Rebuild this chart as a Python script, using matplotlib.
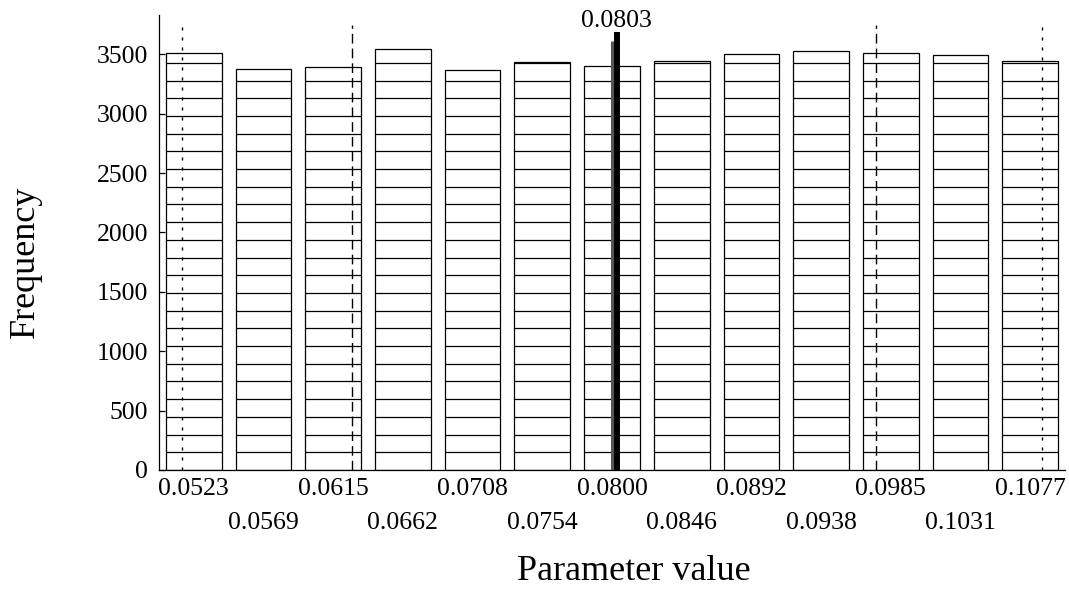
import numpy as np
import matplotlib
matplotlib.use("Agg")
import matplotlib.pyplot as plt

plt.rcParams['font.family'] = ['Liberation Serif', 'DejaVu Serif']

# bin centres (13 bins between 0.05 and 0.11) and frequencies
bin_lo, bin_hi = 0.05, 0.11
tick_labels = ['0.0523', '0.0569', '0.0615', '0.0662', '0.0708', '0.0754', '0.0800',
               '0.0846', '0.0892', '0.0938', '0.0985', '0.1031', '0.1077']
counts = [3511, 3379, 3393, 3548, 3371, 3435, 3399, 3441, 3505, 3525, 3511, 3491, 3447]
seg = 149            # size of each stacked block inside a bar

# reference lines
outer_q = [0.0515, 0.1085]      # dotted
inner_q = [0.0628, 0.0975]      # dashed
median_x = 0.0800
mean_x = 0.0803
outer_h, inner_h, median_h, mean_h = 3772, 3744, 3613, 3688

nb = len(counts)
width = (bin_hi - bin_lo) / nb
centers = bin_lo + (np.arange(nb) + 0.5) * width
bw = 0.8 * width

fig = plt.figure(figsize=(10.69, 5.94), dpi=100)
ax = fig.add_axes([159/1069, 124/594, (1065-159)/1069, (579-124)/594])

ax.bar(centers, counts, width=bw, facecolor='white', edgecolor='black', linewidth=0.9, zorder=2)
for c, h in zip(centers, counts):
    ys = np.arange(seg, h, seg)
    ax.hlines(ys, c - bw/2, c + bw/2, colors='black', linewidth=0.9, zorder=3)

ax.vlines(outer_q, 0, outer_h, colors='black', linewidth=1.0, linestyles=[(0, (2.2, 5))], zorder=4)
ax.vlines(inner_q, 0, inner_h, colors='black', linewidth=1.0, linestyles=[(0, (7, 3.6))], zorder=4)
ax.vlines(median_x, 0, median_h, colors='#555555', linewidth=2.2, zorder=4)
ax.vlines(mean_x, 0, mean_h, colors='black', linewidth=4.3, zorder=5)
ax.text(mean_x, 3727, '%.4f' % mean_x, ha='center', va='baseline', fontsize=18.5)

ax.set_xlim(bin_lo, bin_hi)
ax.set_ylim(0, 3830)
ax.set_yticks(np.arange(0, 3501, 500))
ax.set_xticks(centers)
ax.set_xticklabels(tick_labels)

for s in ['top', 'right']:
    ax.spines[s].set_visible(False)
for s in ['left', 'bottom']:
    ax.spines[s].set_linewidth(0.9)

ax.tick_params(axis='x', direction='in', length=6, width=0.9, labelsize=18.5, pad=6)
ax.tick_params(axis='y', direction='in', length=4, width=0.9, labelsize=18.5, pad=8)
for t in ax.xaxis.get_major_ticks()[1::2]:
    t.set_pad(6 + 24)

fig.text(25/1069, 1 - 262/594, 'Frequency', rotation=90, ha='center', va='center', fontsize=26)
fig.text(0.5*(516.7+751.7)/1069, 1 - 572/594, 'Parameter value', ha='center', va='center', fontsize=26)

fig.savefig('out.png', dpi=100)
